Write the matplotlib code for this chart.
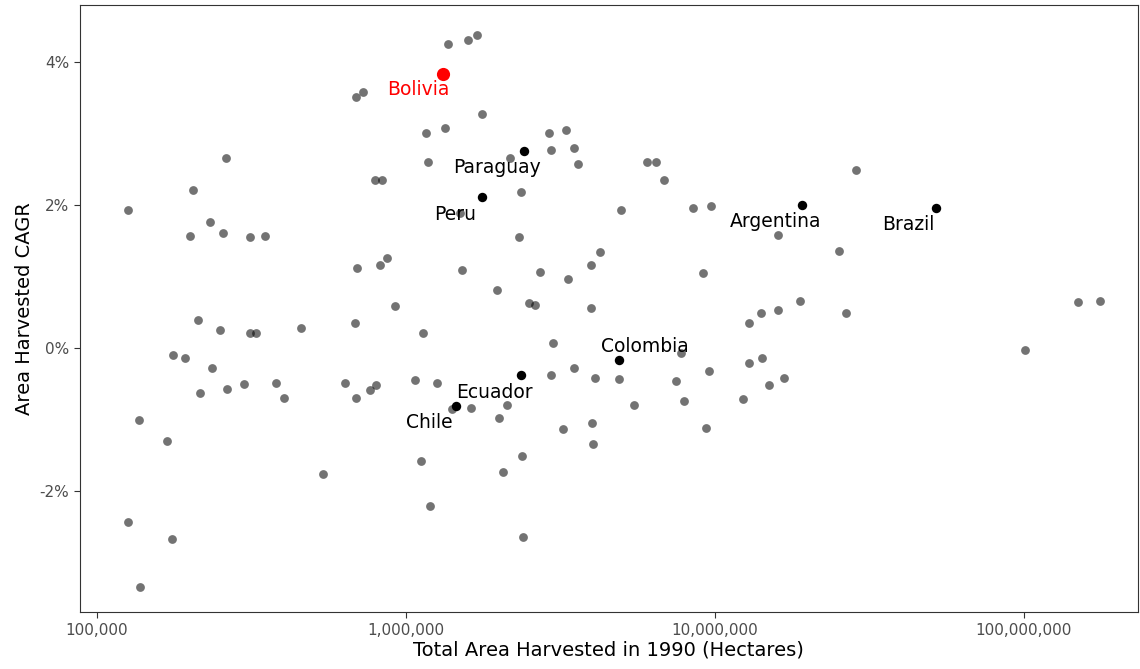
import matplotlib
matplotlib.use("Agg")
import matplotlib.pyplot as plt
from matplotlib.ticker import FuncFormatter, FixedLocator

#-------------------#
# Data
#-------------------#
area = [126000, 126000, 137000, 138000, 169000, 175000, 176000, 193000, 205000, 200000,
        212000, 215000, 232000, 236000, 250000, 256000, 264000, 261000, 299000, 313000,
        313000, 327000, 350000, 380000, 403000, 457000, 539000, 635000, 684000, 689000,
        689000, 694000, 726000, 764000, 794000, 800000, 824000, 836000, 868000, 921000,
        1070000, 1120000, 1135000, 1160000, 1180000, 1195000, 1260000, 1337000, 1368000, 1410000,
        1495000, 1517000, 1587000, 1622000, 1698000, 1762000, 1969000, 2000000, 2061000, 2123000,
        2172000, 2323000, 2357000, 2374000, 2391000, 2500000, 2615000, 2714000, 2903000, 2945000,
        2990000, 2945000, 3224000, 3296000, 3345000, 3497000, 3497000, 3603000, 3971000, 3971000,
        4000000, 4029000, 4091000, 4246000, 4890000, 4962000, 5470000, 6026000, 6442000, 6835000,
        7476000, 7760000, 7943000, 8490000, 9145000, 9354000, 9570000, 9705000, 12330000, 12880000,
        12880000, 14090000, 14190000, 14960000, 16000000, 16000000, 16710000, 18840000, 25190000, 26550000,
        28590000, 100700000, 149600000, 176200000]
cagr = [1.94, -2.43, -1.01, -3.34, -1.29, -2.67, -0.10, -0.13, 2.21, 1.57,
        0.39, -0.62, 1.76, -0.28, 0.25, 1.61, -0.57, 2.66, -0.50, 1.55,
        0.22, 0.22, 1.57, -0.48, -0.70, 0.29, -1.76, -0.48, 0.35, 3.51,
        -0.69, 1.12, 3.59, -0.59, 2.35, -0.52, 1.16, 2.35, 1.26, 0.59,
        -0.45, -1.58, 0.21, 3.01, 2.60, -2.20, -0.49, 3.08, 4.25, -0.85,
        1.89, 1.10, 4.31, -0.84, 4.38, 3.27, 0.81, -0.97, -1.73, -0.80,
        2.66, 1.55, 2.18, -1.50, -2.64, 0.63, 0.60, 1.06, 3.01, 2.77,
        0.08, -0.38, -1.13, 3.05, 0.97, 2.80, -0.27, 2.57, 1.16, 0.57,
        -1.05, -1.34, -0.41, 1.34, -0.43, 1.94, -0.80, 2.60, 2.60, 2.36,
        -0.46, -0.06, -0.74, 1.96, 1.05, -1.12, -0.32, 1.99, -0.71, 0.36,
        -0.20, 0.49, -0.13, -0.52, 1.59, 0.53, -0.41, 0.66, 1.36, 0.50,
        2.49, -0.03, 0.64, 0.66]

countries = ["Paraguay", "Peru", "Argentina", "Brazil", "Colombia", "Ecuador", "Chile"]
c_area = [2410000, 1762000, 19130000, 51880000, 4890000, 2357000, 1452000]
c_cagr = [2.76, 2.11, 2.00, 1.96, -0.17, -0.38, -0.81]
# label offsets in points
c_off = [(-19, -12), (-19, -12), (-19, -12), (-20, -12), (19, 10), (-19, -12), (-19, -12)]

bol_area = 1318000
bol_cagr = 3.83

#-------------------#
# Plot
#-------------------#
fig = plt.figure(figsize=(11.4, 6.69), dpi=100)
ax = fig.add_axes([0.070, 0.085, 0.928, 0.9075])
ax.scatter(area, cagr, s=40, color="#000000", alpha=0.55, linewidths=0)
ax.scatter(c_area, c_cagr, s=46, color="black", linewidths=0, zorder=3)
ax.scatter([bol_area], [bol_cagr], s=90, color="red", linewidths=0, zorder=3)

for n, x, y, o in zip(countries, c_area, c_cagr, c_off):
    ax.annotate(n, (x, y), xytext=o, textcoords="offset points",
                ha="center", va="center", fontsize=13.5, color="black")
ax.annotate("Bolivia", (bol_area, bol_cagr), xytext=(-18, -11), textcoords="offset points",
            ha="center", va="center", fontsize=13.5, color="red")

ax.set_xscale("log")
ax.set_xlim(88100, 2.338e8)
ax.set_ylim(-3.69, 4.80)
ax.xaxis.set_major_locator(FixedLocator([1e5, 1e6, 1e7, 1e8]))
ax.xaxis.set_minor_locator(FixedLocator([]))
ax.xaxis.set_major_formatter(FuncFormatter(lambda v, p: "{:,.0f}".format(v)))
ax.set_yticks([-2, 0, 2, 4])
ax.yaxis.set_major_formatter(FuncFormatter(lambda v, p: "{:.0f}%".format(v)))
ax.tick_params(colors="#333333", labelcolor="#4d4d4d", labelsize=11, length=4)
for s in ax.spines.values():
    s.set_color("#333333")
    s.set_linewidth(0.8)
ax.set_xlabel("Total Area Harvested in 1990 (Hectares)", fontsize=14, labelpad=2)
ax.set_ylabel("Area Harvested CAGR", fontsize=14)

fig.savefig("out.png", dpi=100)
